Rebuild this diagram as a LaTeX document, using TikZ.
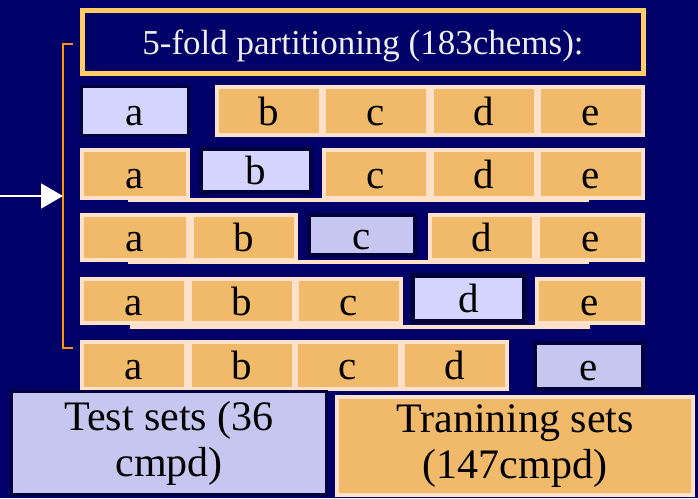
\documentclass[tikz,border=0pt]{standalone}
\usepackage{fontspec}
\setmainfont{Liberation Serif}
\definecolor{slidebg}{RGB}{0, 0, 104}
\definecolor{darkrim}{RGB}{0, 0, 58}
\definecolor{trainorange}{RGB}{240, 186, 106}
\definecolor{peach}{RGB}{255, 224, 200}
\definecolor{testlilac}{RGB}{212, 212, 255}
\definecolor{testlilacB}{RGB}{198, 198, 240}
\definecolor{titlegold}{RGB}{255, 204, 102}
\definecolor{braceorange}{RGB}{255, 150, 0}
\usetikzlibrary{arrows.meta}

\tikzset{
  cell/.style={draw=peach, fill=trainorange, line width=4pt, minimum width=104pt,
    minimum height=46pt, inner sep=0pt, text height=28pt, text depth=0pt,
    font=\fontsize{41}{41}\selectfont},
  held/.style={cell, draw=darkrim, fill=testlilac},
  heldB/.style={held, fill=testlilacB},
  setbox/.style={inner sep=0pt, align=center, font=\fontsize{42}{46}\selectfont},
  underline/.style={draw=peach, line width=4pt},
}

\begin{document}
\begin{tikzpicture}[x=1pt, y=-1pt]
  \fill[slidebg] (0,0) rectangle (698,498);
  \useasboundingbox (0,0) rectangle (698,498);

  % Heading
  \node[draw=titlegold, fill=slidebg, line width=5pt, minimum width=561pt, minimum height=63pt,
    inner sep=0pt, text=white!93!black, text height=24pt, text depth=0pt,
    font=\fontsize{35}{35}\selectfont] (title) at (363,42) {5-fold partitioning (183chems):};

  % Fold 1
  \node[held, line width=3pt, minimum width=107pt, minimum height=49pt] (r1a) at (135,111) {a};
  \node[cell, minimum height=48pt] (r1b) at (269,111) {b};
  \node[cell, minimum height=48pt] (r1c) at (376,111) {c};
  \node[cell, minimum height=48pt] (r1d) at (483.5,111) {d};
  \node[cell, minimum height=48pt] (r1e) at (591,111) {e};

  % Fold 2
  \node[cell, minimum width=106pt, minimum height=48pt] (r2a) at (135,174) {a};
  \node[held, minimum width=110pt, minimum height=43pt] (r2b) at (256,170.5) {b};
  \node[cell, minimum height=48pt] (r2c) at (376,174) {c};
  \node[cell, minimum height=48pt] (r2d) at (483.5,174) {d};
  \node[cell, minimum height=48pt] (r2e) at (591,174) {e};
  \draw[underline] (128,199.5) -- (589,199.5);

  % Fold 3
  \node[cell, minimum width=106pt, minimum height=45pt] (r3a) at (135,237.5) {a};
  \node[cell, minimum height=45pt] (r3b) at (243.5,237.5) {b};
  \node[heldB, minimum width=106pt, minimum height=40pt] (r3c) at (362,235) {c};
  \node[cell, minimum width=104pt, minimum height=45pt] (r3d) at (482,237.5) {d};
  \node[cell, minimum width=105pt, minimum height=45pt] (r3e) at (590.5,237.5) {e};
  \draw[underline] (128,261.5) -- (589,261.5);

  % Fold 4
  \node[cell, minimum height=44pt] (r4a) at (134,301) {a};
  \node[cell, minimum height=44pt] (r4b) at (241.5,301) {b};
  \node[cell, minimum height=44pt] (r4c) at (348.5,301) {c};
  \node[held, line width=5pt, minimum width=112pt, minimum height=46pt] (r4d) at (468.5,298.5) {d};
  \node[cell, minimum width=106pt, minimum height=44pt] (r4e) at (590,301) {e};
  \draw[underline] (130,326.5) -- (590,326.5);

  % Fold 5
  \node[cell, minimum height=47pt] (r5a) at (134,365.5) {a};
  \node[cell, minimum height=47pt] (r5b) at (241.5,365.5) {b};
  \node[cell, minimum height=47pt] (r5c) at (348,365.5) {c};
  \node[cell, minimum height=47pt] (r5d) at (454.5,365.5) {d};
  \node[heldB, minimum width=108pt, minimum height=46pt] (r5e) at (589,366) {e};

  % Bracket round the folds and the arrow into it
  \draw[braceorange, line width=2pt] (73,44) -- (63,44) -- (63,348) -- (73,348);
  \coordinate (feed) at (0,196);
  \coordinate (brace) at (63,196);
  \draw[white, line width=1.6pt, -{Triangle[length=22pt, width=25pt]}] (feed) -- (brace);

  % Legend
  \node[setbox, draw=darkrim, fill=testlilacB, line width=3pt, minimum width=315pt,
    minimum height=103pt] (test) at (169,443) {Test sets (36\\cmpd)};
  \node[setbox, draw=peach, fill=trainorange, line width=4pt, minimum width=356pt,
    minimum height=98pt] (train) at (515,446) {Tranining sets\\(147cmpd)};
\end{tikzpicture}
\end{document}
